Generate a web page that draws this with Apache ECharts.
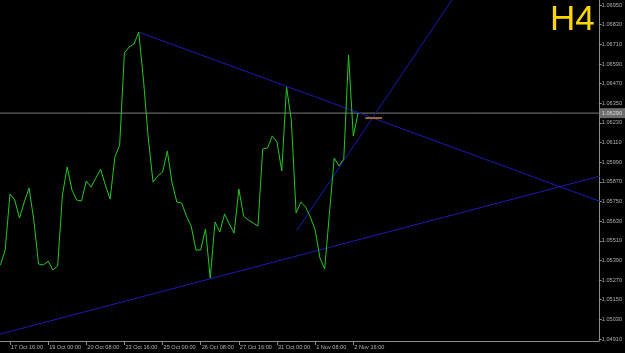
<!DOCTYPE html>
<html><head><meta charset="utf-8">
<script src="https://cdn.jsdelivr.net/npm/echarts@6/dist/echarts.min.js"></script>
<style>html,body{margin:0;padding:0;background:#000;}#c{width:625px;height:353px;}</style>
</head><body><div id="c"></div>
<script>
// H4 bar index 0 = 17 Oct 16:00
const firstBarIndex = -2;
const closePrices = [
  1.05362, 1.05454, 1.05796, 1.05759, 1.05649, 1.05747, 1.05832, 1.05637, 1.05368, 1.05362,
  1.05386, 1.05332, 1.05356, 1.05790, 1.05961, 1.05820, 1.05759, 1.05753, 1.05875, 1.05838,
  1.05893, 1.05948, 1.05851, 1.05765, 1.06022, 1.06095, 1.06657, 1.06694, 1.06712, 1.06785,
  1.06492, 1.06138, 1.05869, 1.05906, 1.05930, 1.06058, 1.05863, 1.05747, 1.05741, 1.05661,
  1.05600, 1.05454, 1.05454, 1.05582, 1.05283, 1.05625, 1.05564, 1.05674, 1.05612, 1.05557,
  1.05826, 1.05661, 1.05637, 1.05619, 1.05600, 1.06071, 1.06077, 1.06150, 1.06113, 1.05936,
  1.06449, 1.06248, 1.05680, 1.05747, 1.05716, 1.05655, 1.05576, 1.05405, 1.05338, 1.05680,
  1.06016, 1.05967, 1.06009, 1.06645, 1.06150, 1.06290
];
const xTickIndex = [0, 8, 16, 24, 32, 40, 48, 56, 64, 72];
const xTickLabels = ['17 Oct 16:00', '19 Oct 00:00', '20 Oct 08:00', '23 Oct 16:00',
  '25 Oct 00:00', '26 Oct 08:00', '27 Oct 16:00', '31 Oct 00:00', '1 Nov 08:00', '2 Nov 16:00'];
const yTickValues = [1.04910, 1.05030, 1.05150, 1.05270, 1.05390, 1.05510, 1.05630, 1.05750, 1.05870,
  1.05990, 1.06110, 1.06230, 1.06350, 1.06470, 1.06590, 1.06710, 1.06830, 1.06950];
const currentPrice = 1.06290;
const trendDown = [[27, 1.06785], [124, 1.05748]];
const trendUpLow = [[-12, 1.04864], [124, 1.05907]];
const trendUpSteep = [[60.13, 1.05572], [100, 1.07299]];
const bidMark = [[74.5, 1.06260], [78, 1.06260]];
const periodLabel = 'H4';

const X_MIN = -2.093, X_MAX = 123.48;
const chart = echarts.init(document.getElementById('c'));
const blue = '#1a1ab4';
const txt = '#b0b0b0';
const font = 'Liberation Sans';
function seg(data, color, w, z) {
  return { type: 'line', data: data, symbol: 'none', silent: true, z: z || 2,
    lineStyle: { color: color, width: w || 1 }, animation: false };
}
const priceLine = seg([[X_MIN, currentPrice], [X_MAX, currentPrice]], '#7c7c7c', 1, 1);
priceLine.endLabel = { show: true, distance: 1, formatter: currentPrice.toFixed(5),
  backgroundColor: '#6c6c6c', color: '#d8d8d8', fontSize: 5.6, fontFamily: font,
  padding: [2, 3, 2, 2] };
chart.setOption({
  backgroundColor: '#000000',
  animation: false,
  grid: { left: 0, right: 25, top: 0, bottom: 12, containLabel: false },
  xAxis: {
    type: 'value', min: X_MIN, max: X_MAX,
    splitLine: { show: false },
    axisLine: { show: true, onZero: false, lineStyle: { color: '#8c8c8c', width: 1 } },
    axisTick: { show: true, customValues: xTickIndex, length: 4, lineStyle: { color: '#8c8c8c' } },
    axisLabel: {
      customValues: xTickIndex, color: txt, fontSize: 5.6, fontFamily: font, align: 'left',
      margin: 3, padding: [0, 0, 0, 1],
      formatter: v => { const k = xTickIndex.indexOf(v); return k >= 0 ? xTickLabels[k] : ''; }
    }
  },
  yAxis: {
    type: 'value', position: 'right', min: 1.04898, max: 1.06981, scale: true,
    splitLine: { show: false },
    axisLine: { show: true, onZero: false, lineStyle: { color: '#8c8c8c', width: 1 } },
    axisTick: { show: true, customValues: yTickValues, length: 3, lineStyle: { color: '#8c8c8c' } },
    axisLabel: { customValues: yTickValues, color: txt, fontSize: 5.6, fontFamily: font, margin: 3,
      formatter: v => v.toFixed(5) }
  },
  graphic: [{
    type: 'text', left: 550, top: 3, z: 10,
    style: { text: periodLabel, fill: '#FFD700', font: '35px "Liberation Sans"' }
  }],
  series: [
    priceLine,
    {
      type: 'line', symbol: 'none', z: 3, silent: true,
      data: closePrices.map((p, i) => [firstBarIndex + i, p]),
      lineStyle: { color: '#22c822', width: 1 }
    },
    seg(trendDown, blue, 1),
    seg(trendUpLow, blue, 1),
    seg(trendUpSteep, blue, 1),
    seg(bidMark, '#9a6a28', 2, 4)
  ]
});
</script></body></html>
